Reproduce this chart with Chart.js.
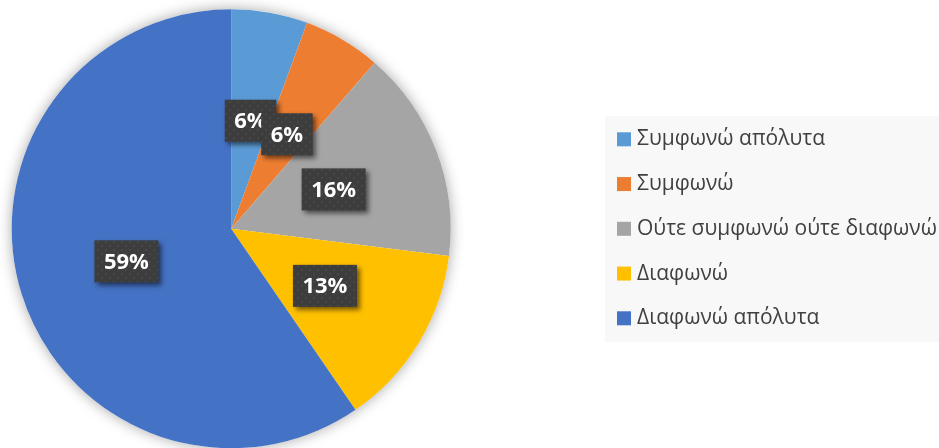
<!DOCTYPE html>
<html><head><meta charset="utf-8">
<script src="https://cdn.jsdelivr.net/npm/chart.js@4/dist/chart.umd.min.js"></script>
<style>html,body{margin:0;padding:0;background:#fff;overflow:hidden}#wrap{width:939px;height:460px;position:relative}</style>
</head><body><div id="wrap"><canvas id="c"></canvas></div>
<script>
const categories = ['Συμφωνώ απόλυτα', 'Συμφωνώ', 'Ούτε συμφωνώ ούτε διαφωνώ', 'Διαφωνώ', 'Διαφωνώ απόλυτα'];
const percentValues = [5.6, 5.7, 15.6, 13.4, 59.4];
const sliceColors = ['#5B9BD5', '#ED7D31', '#A5A5A5', '#FFC000', '#4472C4'];

function makePattern(ctx) {
  const p = document.createElement('canvas');
  p.width = 8; p.height = 8;
  const g = p.getContext('2d');
  g.fillStyle = '#3d3d3d'; g.fillRect(0, 0, 8, 8);
  g.fillStyle = '#4b4b4b';
  g.beginPath(); g.arc(2, 2, 1.1, 0, Math.PI * 2); g.fill();
  g.beginPath(); g.arc(6, 6, 1.1, 0, Math.PI * 2); g.fill();
  return ctx.createPattern(p, 'repeat');
}

const pieShadow = {
  id: 'pieShadow',
  beforeDatasetsDraw(chart) {
    const arc = chart.getDatasetMeta(0).data[0];
    if (!arc) return;
    const ctx = chart.ctx;
    ctx.save();
    ctx.shadowColor = 'rgba(0,0,0,0.35)';
    ctx.shadowBlur = 14;
    ctx.fillStyle = '#ffffff';
    ctx.beginPath();
    ctx.arc(arc.x, arc.y, arc.outerRadius, 0, Math.PI * 2);
    ctx.fill();
    ctx.restore();
  }
};

const boxLabels = {
  id: 'boxLabels',
  afterDatasetsDraw(chart) {
    const ctx = chart.ctx;
    const pat = makePattern(ctx);
    const meta = chart.getDatasetMeta(0);
    const vals = chart.data.datasets[0].data;
    ctx.save();
    ctx.font = 'bold 22px "Open Sans"';
    ctx.textAlign = 'center';
    ctx.textBaseline = 'middle';
    meta.data.forEach((arc, i) => {
      const pos = arc.tooltipPosition();
      const txt = Math.round(vals[i]) + '%';
      const w = ctx.measureText(txt).width + 19;
      const h = 42;
      ctx.save();
      ctx.shadowColor = 'rgba(0,0,0,0.55)';
      ctx.shadowBlur = 5;
      ctx.shadowOffsetX = 3;
      ctx.shadowOffsetY = 3;
      ctx.fillStyle = pat;
      ctx.fillRect(pos.x - w / 2, pos.y - h / 2, w, h);
      ctx.restore();
      ctx.fillStyle = '#ffffff';
      ctx.fillText(txt, pos.x, pos.y + 1);
    });
    ctx.restore();
  }
};

const sideLegend = {
  id: 'sideLegend',
  afterDraw(chart) {
    const ctx = chart.ctx;
    ctx.save();
    ctx.fillStyle = '#f8f8f8';
    ctx.fillRect(605, 116, 334, 226);
    ctx.font = '21px "Open Sans"';
    ctx.textBaseline = 'middle';
    ctx.textAlign = 'left';
    chart.data.labels.forEach((lab, i) => {
      const y = 139.3 + i * 44.75;
      ctx.fillStyle = chart.data.datasets[0].backgroundColor[i];
      ctx.fillRect(617, y - 7, 14, 14);
      ctx.fillStyle = '#404040';
      ctx.fillText(lab, 637, y);
    });
    ctx.restore();
  }
};

new Chart(document.getElementById('c'), {
  type: 'pie',
  data: {
    labels: categories,
    datasets: [{
      data: percentValues,
      backgroundColor: sliceColors,
      borderWidth: 0,
      hoverOffset: 0,
      offset: 0
    }]
  },
  options: {
    responsive: true,
    maintainAspectRatio: false,
    animation: false,
    events: [],
    layout: { padding: { left: 11.7, right: 488.3, top: 9.3, bottom: 11.7 } },
    plugins: { legend: { display: false }, tooltip: { enabled: false } }
  },
  plugins: [pieShadow, boxLabels, sideLegend]
});
</script>
</body></html>
